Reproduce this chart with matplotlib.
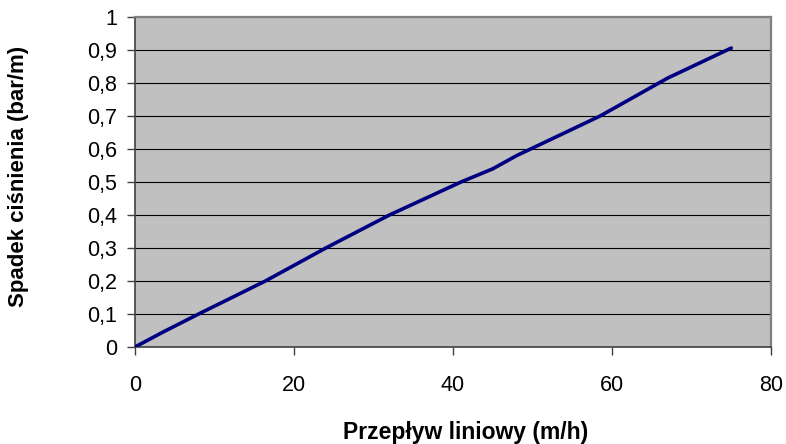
import matplotlib
matplotlib.use("Agg")
import matplotlib.pyplot as plt
from matplotlib.ticker import FuncFormatter

# przepływ liniowy (m/h) vs spadek ciśnienia (bar/m)
flow = [0, 3.5, 8, 16.4, 24, 32, 41, 45, 48, 58.5, 67, 75]
pressure_drop = [0, 0.045, 0.1, 0.2, 0.3, 0.4, 0.5, 0.54, 0.58, 0.7, 0.815, 0.906]

x_ticks = [0, 20, 40, 60, 80]
y_ticks = [0, 0.1, 0.2, 0.3, 0.4, 0.5, 0.6, 0.7, 0.8, 0.9, 1]

plt.rcParams["font.family"] = ["Liberation Sans", "DejaVu Sans"]

fig = plt.figure(figsize=(7.86, 4.44), dpi=100)
ax = fig.add_axes([0.1718, 0.2185, 0.8092, 0.7432])
ax.set_facecolor("#c0c0c0")

for yv in y_ticks[1:-1]:
    ax.axhline(yv, color="black", linewidth=0.8, zorder=1)

ax.plot(flow, pressure_drop, color="#000080", linewidth=2.6,
        solid_capstyle="round", zorder=3)

ax.set_xlim(0, 80)
ax.set_ylim(0, 1)
ax.set_xticks(x_ticks)
ax.set_yticks(y_ticks)
ax.yaxis.set_major_formatter(FuncFormatter(
    lambda v, _: ("%g" % round(v, 1)).replace(".", ",")))

ax.tick_params(axis="both", direction="out", length=6, width=1,
               color="#404040", labelsize=15.5)
ax.tick_params(axis="x", pad=14)
ax.tick_params(axis="y", pad=7)

for side in ("top", "right"):
    ax.spines[side].set_color("#808080")
    ax.spines[side].set_linewidth(1.6)
for side in ("left", "bottom"):
    ax.spines[side].set_color("#404040")
    ax.spines[side].set_linewidth(1.2)

ax.set_xlabel("Przepływ liniowy (m/h)", fontsize=16.5, fontweight="bold",
              va="center")
ax.xaxis.set_label_coords(0.519, -0.258)
ax.set_ylabel("Spadek ciśnienia (bar/m)", fontsize=16, fontweight="bold",
              va="center")
ax.yaxis.set_label_coords(-0.184, 0.517)

fig.savefig("out.png", dpi=100)
